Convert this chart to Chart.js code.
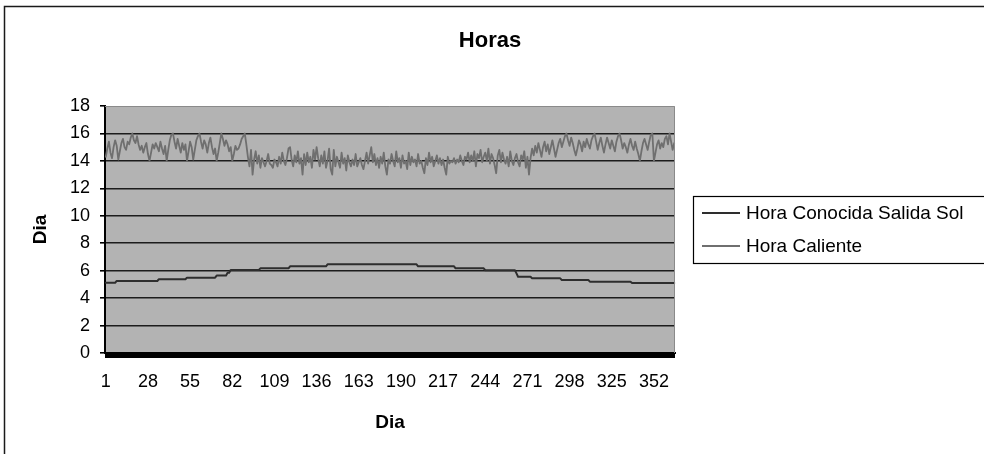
<!DOCTYPE html>
<html>
<head>
<meta charset="utf-8">
<script src="https://cdn.jsdelivr.net/npm/chart.js@4.4.1/dist/chart.umd.min.js"></script>
<style>
  html, body { margin: 0; padding: 0; background: #ffffff; }
  #wrap { width: 984px; height: 454px; }
</style>
</head>
<body>
<div id="wrap"><canvas id="c" width="984" height="454"></canvas></div>
<script>
// Day numbers of the year (category axis)
const days = Array.from({ length: 365 }, (_, i) => String(i + 1));

// Days that carry a visible label on the category axis
const tickDays = ['1', '28', '55', '82', '109', '136', '163', '190', '217', '244', '271', '298', '325', '352'];

// Known sunrise hour for each day
const horaSalidaSol = [
  5.12, 5.12, 5.12, 5.12, 5.12, 5.12, 5.12,
  5.25, 5.25, 5.25, 5.25, 5.25, 5.25, 5.25, 5.25, 5.25, 5.25, 5.25, 5.25, 5.25, 5.25,
  5.25, 5.25, 5.25, 5.25, 5.25, 5.25, 5.25, 5.25, 5.25, 5.25, 5.25, 5.25, 5.25,
  5.37, 5.37, 5.37, 5.37, 5.37, 5.37, 5.37, 5.37, 5.37, 5.37, 5.37, 5.37, 5.37, 5.37, 5.37, 5.37, 5.37, 5.37,
  5.49, 5.49, 5.49, 5.49, 5.49, 5.49, 5.49, 5.49, 5.49, 5.49, 5.49, 5.49, 5.49, 5.49, 5.49, 5.49, 5.49, 5.49, 5.49,
  5.64, 5.64, 5.64, 5.64, 5.64, 5.64, 5.64,
  5.85, 5.85,
  6.05, 6.05, 6.05, 6.05, 6.05, 6.05, 6.05, 6.05, 6.05, 6.05, 6.05, 6.05, 6.05, 6.05, 6.05, 6.05, 6.05, 6.05, 6.05,
  6.17, 6.17, 6.17, 6.17, 6.17, 6.17, 6.17, 6.17, 6.17, 6.17, 6.17, 6.17, 6.17, 6.17, 6.17, 6.17, 6.17, 6.17, 6.17,
  6.32, 6.32, 6.32, 6.32, 6.32, 6.32, 6.32, 6.32, 6.32, 6.32, 6.32, 6.32,
  6.32, 6.32, 6.32, 6.32, 6.32, 6.32, 6.32, 6.32, 6.32, 6.32, 6.32, 6.32,
  6.46, 6.46, 6.46, 6.46, 6.46, 6.46, 6.46, 6.46, 6.46, 6.46, 6.46, 6.46, 6.46, 6.46, 6.46, 6.46, 6.46, 6.46, 6.46, 6.46,
  6.46, 6.46, 6.46, 6.46, 6.46, 6.46, 6.46, 6.46, 6.46, 6.46, 6.46, 6.46, 6.46, 6.46, 6.46, 6.46, 6.46, 6.46, 6.46, 6.46,
  6.46, 6.46, 6.46, 6.46, 6.46, 6.46, 6.46, 6.46, 6.46, 6.46, 6.46, 6.46, 6.46, 6.46, 6.46, 6.46, 6.46, 6.46,
  6.32, 6.32, 6.32, 6.32, 6.32, 6.32, 6.32, 6.32, 6.32, 6.32, 6.32, 6.32,
  6.32, 6.32, 6.32, 6.32, 6.32, 6.32, 6.32, 6.32, 6.32, 6.32, 6.32, 6.32,
  6.17, 6.17, 6.17, 6.17, 6.17, 6.17, 6.17, 6.17, 6.17, 6.17, 6.17, 6.17, 6.17, 6.17, 6.17, 6.17, 6.17, 6.17, 6.17,
  6.03, 6.03, 6.03, 6.03, 6.03, 6.03, 6.03, 6.03, 6.03, 6.03, 6.03, 6.03, 6.03, 6.03, 6.03, 6.03, 6.03, 6.03, 6.03, 6.03,
  5.80,
  5.56, 5.56, 5.56, 5.56, 5.56, 5.56, 5.56, 5.56, 5.56,
  5.44, 5.44, 5.44, 5.44, 5.44, 5.44, 5.44, 5.44, 5.44, 5.44, 5.44, 5.44, 5.44, 5.44, 5.44, 5.44, 5.44, 5.44, 5.44,
  5.32, 5.32, 5.32, 5.32, 5.32, 5.32, 5.32, 5.32, 5.32, 5.32, 5.32, 5.32, 5.32, 5.32, 5.32, 5.32, 5.32, 5.32,
  5.20, 5.20, 5.20, 5.20, 5.20, 5.20, 5.20, 5.20, 5.20, 5.20, 5.20, 5.20, 5.20, 5.20,
  5.20, 5.20, 5.20, 5.20, 5.20, 5.20, 5.20, 5.20, 5.20, 5.20, 5.20, 5.20, 5.20,
  5.10, 5.10, 5.10, 5.10, 5.10, 5.10, 5.10, 5.10, 5.10, 5.10, 5.10, 5.10, 5.10, 5.10,
  5.10, 5.10, 5.10, 5.10, 5.10, 5.10, 5.10, 5.10, 5.10, 5.10, 5.10, 5.10, 5.10, 5.10
];

// Hottest hour recorded for each day
const horaCaliente = [
  14.3, 14.9, 15.4, 14.6, 14.2, 15.0, 15.5, 15.1, 14.1, 14.7,
  15.3, 15.6, 15.0, 14.8, 15.4, 15.2, 15.7, 16.0, 15.5, 15.3,
  15.8, 15.2, 14.8, 15.1, 14.6, 15.0, 15.3, 14.5, 14.0, 14.6,
  15.2, 14.9, 15.3, 15.0, 14.7, 15.4, 14.9, 14.5, 15.1, 14.0,
  14.8, 15.5, 15.9, 16.0, 15.4, 14.9, 15.6, 15.1, 14.6, 15.3,
  14.8, 15.2, 14.0, 14.7, 15.4, 15.0, 14.1, 14.8, 15.5, 15.8,
  16.0, 15.4, 14.9, 15.5, 15.2, 14.6, 15.3, 15.7, 15.0, 14.5,
  14.9, 14.0, 14.6, 15.3, 16.0, 15.6, 15.1, 15.5, 15.2, 14.7,
  15.0, 14.0, 14.5, 15.1, 14.8, 14.9, 15.2, 15.6, 15.8, 16.0,
  15.2, 14.3, 13.6, 14.8, 13.0, 14.1, 14.7, 13.8, 14.4, 13.5,
  14.2, 13.9, 13.6, 14.0, 14.5, 13.8, 13.7, 13.5, 14.1, 13.9,
  13.6, 14.3, 13.8, 14.6, 14.0, 13.7, 14.2, 14.9, 15.0, 14.1,
  13.6, 14.4, 13.9, 14.7, 13.8, 14.2, 13.0, 14.5, 13.7, 14.6,
  13.9, 14.3, 13.5, 14.8, 14.1, 15.0, 14.2, 13.6, 14.4, 13.8,
  14.7, 13.5, 14.0, 14.9, 13.4, 13.0, 14.8, 13.6, 14.3, 13.9,
  13.5, 14.6, 13.8, 14.2, 13.3, 14.4, 13.9, 13.6, 14.1, 13.7,
  14.5, 13.6, 13.9, 14.2, 13.7, 13.4, 14.0, 14.6, 13.8, 14.4,
  15.0, 13.9, 14.5, 13.7, 14.2, 13.5, 14.3, 13.8, 14.6, 13.6,
  13.0, 14.1, 13.8, 14.5, 14.0, 13.6, 14.7, 13.9, 14.2, 13.5,
  14.4, 13.8, 14.0, 13.4, 14.6, 13.7, 14.3, 13.9, 14.1, 13.6,
  14.5, 13.8, 14.0, 13.5, 13.1, 14.2, 13.7, 14.6, 13.9, 14.3,
  13.6, 14.0, 14.4, 13.8, 14.2, 13.7, 14.1, 13.5, 13.0, 14.3,
  13.8, 14.0, 13.9, 14.2, 13.8, 14.1, 13.9, 14.4, 14.0, 13.7,
  14.3, 14.1, 14.6, 13.9, 14.4, 14.0, 14.7, 13.6, 14.5, 14.2,
  14.8, 13.9, 14.3, 14.6, 14.0, 14.9, 13.8, 14.5, 14.2, 13.7,
  13.1, 14.4, 14.8, 13.9, 14.6, 14.1, 13.8, 14.3, 13.6, 14.7,
  14.0, 13.7, 14.2, 14.5, 13.9, 13.6, 14.4, 14.1, 14.7, 13.5,
  14.3, 13.0,
  14.2, 14.9, 14.4, 15.1, 14.6, 15.3, 14.8, 14.3, 15.0, 15.4,
  14.7, 15.2, 14.5, 15.0, 15.5, 14.9, 14.3, 14.8, 15.3, 15.6,
  15.0, 15.4, 15.8, 16.0, 15.5, 15.1, 15.7, 15.3, 14.8, 14.4,
  14.9, 15.5, 15.2, 14.7, 15.4, 15.0, 15.6, 15.2, 14.9, 15.5,
  15.8, 16.0, 15.4, 14.8, 15.3, 15.7, 15.1, 14.6, 15.2, 15.7,
  15.3, 14.9, 15.5, 15.1, 14.7, 15.4, 15.8, 16.0, 15.5, 14.9,
  15.3, 15.0, 14.6, 15.2, 15.6, 15.1, 14.8, 15.4, 14.9, 14.5,
  14.0, 14.7, 15.3, 15.6, 15.2, 14.8, 15.4, 15.9, 16.0, 14.0,
  14.6, 15.2, 15.5, 14.9, 15.3, 15.0, 15.6, 15.8, 15.2, 16.0,
  15.4, 14.8, 15.3
];

// Value axis tick labels
const yTicks = [0, 2, 4, 6, 8, 10, 12, 14, 16, 18];

const seriesNames = ['Hora Conocida Salida Sol', 'Hora Caliente'];
const seriesColors = ['#2e2e2e', '#6f6f6f'];

const FONT = '"Liberation Sans", Arial, Helvetica, sans-serif';

// Page decoration: white background, grey plot area, outer frame,
// plot border, centred title and a framed legend on the right.
const frame = {
  id: 'frame',
  beforeDraw(chart) {
    const { ctx, chartArea: a } = chart;
    ctx.save();
    ctx.fillStyle = '#ffffff';
    ctx.fillRect(0, 0, chart.width, chart.height);
    ctx.fillStyle = '#b3b3b3';
    ctx.fillRect(a.left, a.top, a.right - a.left, a.bottom - a.top);
    ctx.strokeStyle = '#1a1a1a';
    ctx.lineWidth = 1.5;
    ctx.strokeRect(4.5, 6.5, 1100, 600);
    ctx.restore();
  },
  afterDraw(chart) {
    const { ctx, chartArea: a } = chart;
    ctx.save();
    // thin border on the top and right of the plot area
    ctx.strokeStyle = '#8a8a8a';
    ctx.lineWidth = 1;
    ctx.beginPath();
    ctx.moveTo(a.left, a.top + 0.5);
    ctx.lineTo(a.right - 0.5, a.top + 0.5);
    ctx.lineTo(a.right - 0.5, a.bottom);
    ctx.stroke();

    // title
    ctx.fillStyle = '#000';
    ctx.font = 'bold 22px ' + FONT;
    ctx.textAlign = 'center';
    ctx.textBaseline = 'middle';
    ctx.fillText('Horas', 490, 41);

    // legend
    const lx = 693, ly = 196, lh = 67;
    ctx.strokeStyle = '#000';
    ctx.lineWidth = 1.2;
    ctx.strokeRect(lx + 0.5, ly + 0.5, 400, lh);
    ctx.font = '19px ' + FONT;
    ctx.textAlign = 'left';
    chart.data.datasets.forEach((ds, i) => {
      const y = ly + 17 + i * 33;
      ctx.strokeStyle = ds.borderColor;
      ctx.lineWidth = 2;
      ctx.beginPath();
      ctx.moveTo(702, y);
      ctx.lineTo(740, y);
      ctx.stroke();
      ctx.fillStyle = '#000';
      ctx.fillText(ds.label, 746, y + 1);
    });
    ctx.restore();
  }
};

new Chart(document.getElementById('c'), {
  type: 'line',
  data: {
    labels: days,
    datasets: [
      { label: seriesNames[0], data: horaSalidaSol, borderColor: seriesColors[0], borderWidth: 2 },
      { label: seriesNames[1], data: horaCaliente, borderColor: seriesColors[1], borderWidth: 1.8 }
    ]
  },
  plugins: [frame],
  options: {
    responsive: false,
    animation: false,
    layout: { padding: { top: 106, right: 309, left: 0, bottom: 0 } },
    elements: {
      point: { radius: 0 },
      line: { tension: 0, fill: false, borderJoinStyle: 'round', borderCapStyle: 'round' }
    },
    plugins: {
      legend: { display: false },
      title: { display: false },
      tooltip: { enabled: false }
    },
    scales: {
      x: {
        type: 'category',
        offset: true,
        grid: { drawOnChartArea: false, drawTicks: true, tickLength: 5, color: '#000', lineWidth: 2 },
        border: { display: true, color: '#000', width: 2 },
        ticks: {
          autoSkip: false,
          maxRotation: 0,
          minRotation: 0,
          padding: 13,
          color: '#000',
          font: { family: FONT, size: 18 },
          callback: function (v, i) {
            const lab = this.getLabelForValue(v);
            return tickDays.includes(lab) ? lab : '';
          }
        },
        title: {
          display: true,
          text: 'Dia',
          color: '#000',
          font: { family: FONT, size: 19, weight: 'bold' },
          padding: { top: 0, bottom: 20 }
        },
        afterFit(scale) { scale.height = 101; }
      },
      y: {
        min: 0,
        max: 18,
        afterBuildTicks(scale) { scale.ticks = yTicks.map(v => ({ value: v })); },
        grid: {
          drawTicks: true,
          tickLength: 5,
          tickColor: '#000',
          lineWidth: 1.6,
          color: c => (c.tick && c.tick.value === 18 ? 'rgba(0,0,0,0)' : '#1c1c1c')
        },
        border: { display: true, color: '#000', width: 2 },
        ticks: {
          padding: 10,
          color: '#000',
          font: { family: FONT, size: 18 }
        },
        title: {
          display: true,
          text: 'Dia',
          color: '#000',
          font: { family: FONT, size: 19, weight: 'bold' },
          padding: { top: 29, bottom: 0 }
        },
        afterFit(scale) { scale.width = 105; }
      }
    }
  }
});
</script>
</body>
</html>
